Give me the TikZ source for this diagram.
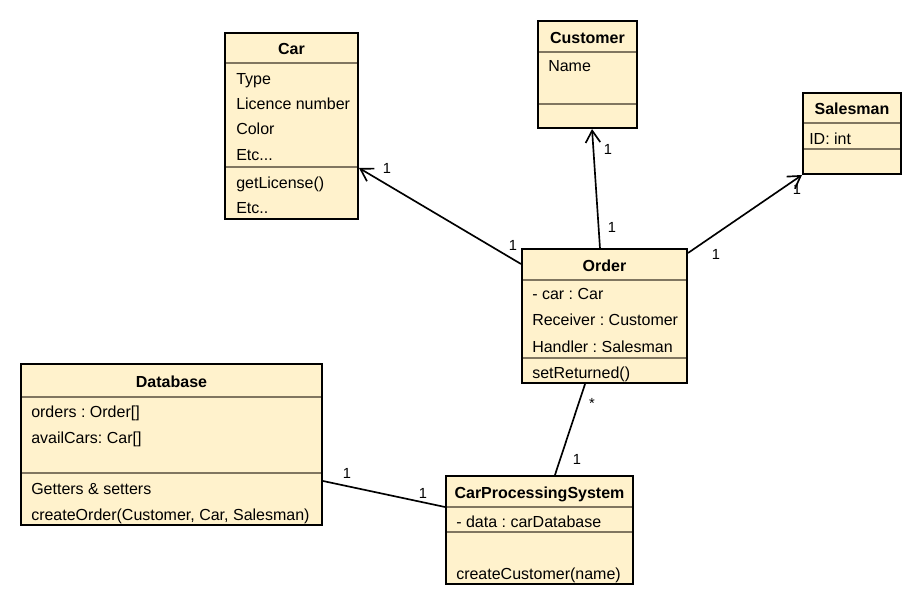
\documentclass[tikz,border=0pt]{standalone}
\usepackage{fontspec}
\setmainfont{Liberation Sans}
\frenchspacing
\usetikzlibrary{arrows.meta,fit}
\definecolor{classFill}{RGB}{255,242,204}
\definecolor{sepGray}{RGB}{128,118,96}

\begin{document}
\begin{tikzpicture}[x=0.75pt,y=-0.75pt,
        classbox/.style={draw, line width=1.5pt, fill=classFill, inner sep=0pt},
        title/.style={inner sep=0pt, text height=11pt, text depth=1pt, font=\fontsize{12}{14}\selectfont\bfseries},
        member/.style={anchor=west, inner sep=0pt, text height=12pt, text depth=1.5pt, font=\fontsize{12}{14}\selectfont},
        mult/.style={inner sep=0pt, font=\fontsize{11}{13}\selectfont},
        sepline/.style={sepGray, line width=1.3pt, shorten <=0.75pt, shorten >=0.75pt},
        assoc/.style={line width=1.25pt}]
        \useasboundingbox (0,0) rectangle (922,605);

        % class Car
        \node[classbox, fit={(225,33) (358,219)}] (car) {};
        \node[title] (car-t) at (291.5,48) {Car};
        \draw[sepline] (225,63) -- (358,63);
        \node[member] (car-a1) at (236,78) {Type};
        \node[member] (car-a2) at (236,103) {Licence number};
        \node[member] (car-a3) at (236,128) {Color};
        \node[member] (car-a4) at (236,154) {Etc...};
        \draw[sepline] (225,167) -- (358,167);
        \node[member] (car-m1) at (236,182) {getLicense()};
        \node[member] (car-m2) at (236,207) {Etc..};

        % class Customer
        \node[classbox, fit={(538,21) (637,128)}] (customer) {};
        \node[title] (customer-t) at (587.5,37) {Customer};
        \draw[sepline] (538,52) -- (637,52);
        \node[member] (customer-a1) at (548,65) {Name};
        \draw[sepline] (538,104) -- (637,104);

        % class Salesman
        \node[classbox, fit={(803,93) (901,174)}] (salesman) {};
        \node[title] (salesman-t) at (852,108) {Salesman};
        \draw[sepline] (803,123) -- (901,123);
        \node[member] (salesman-a1) at (809,138) {ID: int};
        \draw[sepline] (803,149) -- (901,149);

        % class Order
        \node[classbox, fit={(522,249) (687,383)}] (order) {};
        \node[title] (order-t) at (604.5,265) {Order};
        \draw[sepline] (522,280) -- (687,280);
        \node[member] (order-a1) at (532,293) {- car : Car};
        \node[member] (order-a2) at (532,319) {Receiver : Customer};
        \node[member] (order-a3) at (532,346) {Handler : Salesman};
        \draw[sepline] (522,358) -- (687,358);
        \node[member] (order-m1) at (532,372) {setReturned()};

        % class Database
        \node[classbox, fit={(21,364) (322,525)}] (database) {};
        \node[title] (database-t) at (171.5,381) {Database};
        \draw[sepline] (21,397) -- (322,397);
        \node[member] (database-a1) at (31,411) {orders : Order[]};
        \node[member] (database-a2) at (31,437) {availCars: Car[]};
        \draw[sepline] (21,473) -- (322,473);
        \node[member] (database-m1) at (31,488) {Getters \& setters};
        \node[member] (database-m2) at (31,514) {createOrder(Customer, Car, Salesman)};

        % class CarProcessingSystem
        \node[classbox, fit={(446,476) (633,584)}] (cps) {};
        \node[title] (cps-t) at (539.5,492) {CarProcessingSystem};
        \draw[sepline] (446,507) -- (633,507);
        \node[member] (cps-a1) at (456,521) {- data : carDatabase};
        \draw[sepline] (446,532) -- (633,532);
        \node[member] (cps-m1) at (456,573) {createCustomer(name)};

        % associations
        \draw[assoc, -{Straight Barb[length=9pt,width=11pt]}] ([yshift=-12pt]order.north west) -- ([yshift=39pt]car.south east);
        \node[mult] (car-n1) at (387,168) {1};
        \node[mult] (car-n2) at (513,245) {1};

        \draw[assoc, -{Straight Barb[length=9pt,width=11pt]}] ([xshift=-3.4pt]order.north) -- ([xshift=3.4pt]customer.south);
        \node[mult] (customer-n1) at (608,149) {1};
        \node[mult] (customer-n2) at (612,227) {1};

        \draw[assoc, -{Straight Barb[length=9pt,width=11pt]}] ([yshift=-3.75pt]order.north east) -- (salesman.south west);
        \node[mult] (salesman-n1) at (716,254) {1};
        \node[mult] (salesman-n2) at (797,189) {1};

        \draw[assoc] ([xshift=-14.6pt]order.south) -- ([xshift=11.6pt]cps.north);
        \node[mult] (order-n1) at (592,403) {*};
        \node[mult] (order-n2) at (577,459) {1};

        \draw[assoc] ([yshift=33.75pt]database.south east) -- ([yshift=-24pt]cps.north west);
        \node[mult] (database-n1) at (347,473) {1};
        \node[mult] (database-n2) at (423,493) {1};

    \end{tikzpicture}
\end{document}
